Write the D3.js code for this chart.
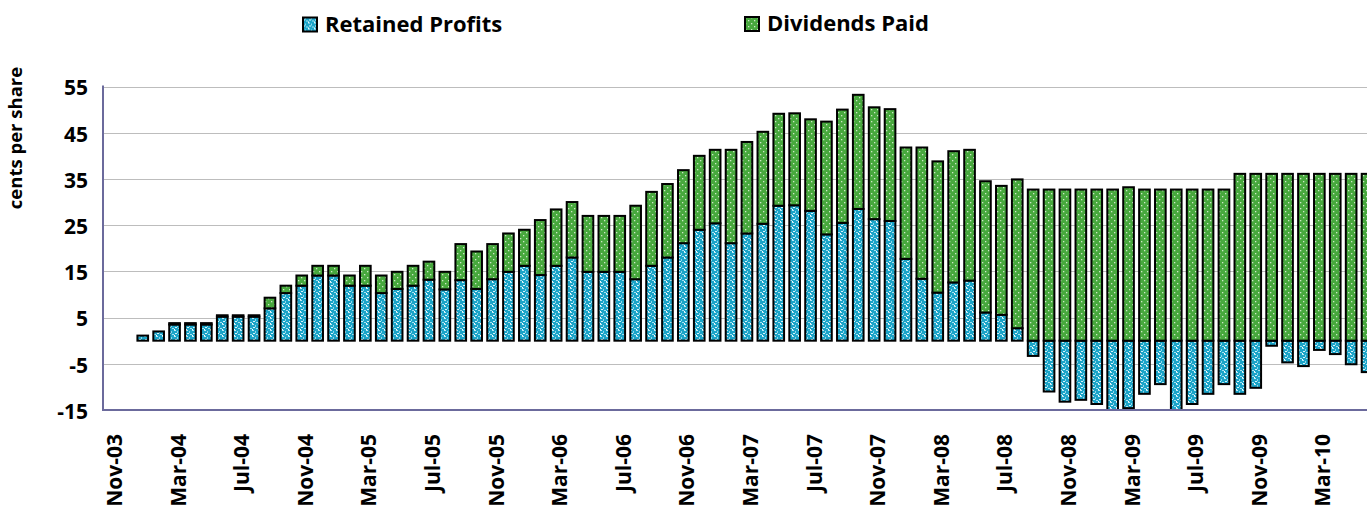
<!DOCTYPE html>
<html lang="en">
<head>
<meta charset="UTF-8">
<title>Retained Profits and Dividends Paid</title>
<script src="https://d3js.org/d3.v7.min.js"></script>
<style>
    body { margin: 0; background: #fff; }
    text { font-family: "Open Sans", sans-serif; font-weight: 700; fill: #000; }
    .grid line { stroke: #bdbdbd; stroke-width: 1; }
    .frame { stroke: #6b6a9c; stroke-width: 2; fill: none; }
</style>
</head>
<body>
<svg id="chart" width="1367" height="506"></svg>
<script>
// monthly categories, Nov-03 .. Jun-10
const months = [
    "Nov-03","Dec-03","Jan-04","Feb-04","Mar-04","Apr-04","May-04","Jun-04","Jul-04","Aug-04",
    "Sep-04","Oct-04","Nov-04","Dec-04","Jan-05","Feb-05","Mar-05","Apr-05","May-05","Jun-05",
    "Jul-05","Aug-05","Sep-05","Oct-05","Nov-05","Dec-05","Jan-06","Feb-06","Mar-06","Apr-06",
    "May-06","Jun-06","Jul-06","Aug-06","Sep-06","Oct-06","Nov-06","Dec-06","Jan-07","Feb-07",
    "Mar-07","Apr-07","May-07","Jun-07","Jul-07","Aug-07","Sep-07","Oct-07","Nov-07","Dec-07",
    "Jan-08","Feb-08","Mar-08","Apr-08","May-08","Jun-08","Jul-08","Aug-08","Sep-08","Oct-08",
    "Nov-08","Dec-08","Jan-09","Feb-09","Mar-09","Apr-09","May-09","Jun-09","Jul-09","Aug-09",
    "Sep-09","Oct-09","Nov-09","Dec-09","Jan-10","Feb-10","Mar-10","Apr-10","May-10","Jun-10"
];

// cents per share
const retainedProfits = [
    0, 0, 1.1, 2.0, 3.5, 3.5, 3.5, 5.2, 5.2, 5.2,
    7.0, 10.3, 11.9, 14.1, 14.1, 11.9, 11.9, 10.3, 11.2, 11.9,
    13.2, 11.1, 13.1, 11.2, 13.3, 14.9, 16.2, 14.2, 16.2, 18.0,
    14.9, 14.9, 14.9, 13.3, 16.2, 18.0, 21.1, 24.0, 25.4, 21.1,
    23.2, 25.3, 29.2, 29.3, 28.1, 23.0, 25.5, 28.5, 26.3, 25.9,
    17.7, 13.4, 10.4, 12.6, 13.0, 6.1, 5.6, 2.7, -3.3, -11.0,
    -13.2, -12.8, -13.7, -16.0, -14.6, -11.5, -9.4, -16.0, -13.7, -11.5,
    -9.4, -11.5, -10.2, -1.1, -4.7, -5.5, -2.0, -2.9, -5.1, -6.8
];

const dividendsPaid = [
    0, 0, 0, 0, 0.3, 0.3, 0.3, 0.3, 0.3, 0.3,
    2.3, 1.6, 2.2, 2.1, 2.1, 2.2, 4.3, 3.8, 3.7, 4.3,
    3.9, 3.8, 7.8, 8.1, 7.6, 8.3, 7.8, 11.9, 12.2, 12.0,
    12.1, 12.1, 12.1, 15.9, 16.0, 15.9, 15.8, 16.0, 15.9, 20.2,
    19.8, 19.9, 19.9, 19.9, 19.8, 24.4, 24.5, 24.7, 24.2, 24.2,
    24.1, 28.4, 28.4, 28.4, 28.3, 28.4, 27.9, 32.2, 32.7, 32.7,
    32.7, 32.7, 32.7, 32.7, 33.2, 32.7, 32.7, 32.7, 32.7, 32.7,
    32.7, 36.1, 36.1, 36.1, 36.1, 36.1, 36.1, 36.1, 36.1, 36.1
];

const xTickLabels = ["Nov-03","Mar-04","Jul-04","Nov-04","Mar-05","Jul-05","Nov-05","Mar-06","Jul-06","Nov-06",
    "Mar-07","Jul-07","Nov-07","Mar-08","Jul-08","Nov-08","Mar-09","Jul-09","Nov-09","Mar-10"];
const yTicks = [-15, -5, 5, 15, 25, 35, 45, 55];

const seriesNames = ["Retained Profits", "Dividends Paid"];
const keys = ["retained", "dividends"];

const svg = d3.select("#chart");
const plotLeft = 103, plotTop = 86.5, plotBottom = 410, step = 15.9;

const x = d3.scaleBand()
    .domain(months)
    .range([plotLeft, plotLeft + months.length * step])
    .paddingInner(0.33)
    .paddingOuter(0.165);

const y = d3.scaleLinear()
    .domain([-15, 55])
    .range([plotBottom, plotTop]);

// fill textures
const defs = svg.append("defs");
const pBlue = defs.append("pattern").attr("id", "pBlue")
    .attr("patternUnits", "userSpaceOnUse").attr("width", 6).attr("height", 6);
pBlue.append("rect").attr("width", 6).attr("height", 6).attr("fill", "#1ba4c8");
[[0, 0, 2, 1, "#bfeaf5"], [3, 1, 1, 2, "#8fd6ea"], [1, 3, 2, 1, "#d8f3fa"], [4, 4, 2, 1, "#a7e1f0"], [0, 5, 1, 1, "#ffffff"]]
    .forEach(p => pBlue.append("rect").attr("x", p[0]).attr("y", p[1]).attr("width", p[2]).attr("height", p[3]).attr("fill", p[4]));

const pGreen = defs.append("pattern").attr("id", "pGreen")
    .attr("patternUnits", "userSpaceOnUse").attr("width", 6).attr("height", 6);
pGreen.append("rect").attr("width", 6).attr("height", 6).attr("fill", "#47a83d");
[[1, 1], [4, 4]].forEach(p => pGreen.append("rect").attr("x", p[0]).attr("y", p[1])
    .attr("width", 1.3).attr("height", 1.3).attr("fill", "#cfe9c8"));

const fills = {retained: "url(#pBlue)", dividends: "url(#pGreen)"};

defs.append("clipPath").attr("id", "plotClip")
    .append("rect").attr("x", plotLeft).attr("y", plotTop - 10)
    .attr("width", 1367 - plotLeft).attr("height", plotBottom - plotTop + 10);

// gridlines
svg.append("g").attr("class", "grid")
    .selectAll("line")
    .data(yTicks.filter(t => t > -15))
    .join("line")
    .attr("x1", plotLeft).attr("x2", 1367)
    .attr("y1", d => Math.round(y(d)) + 0.5).attr("y2", d => Math.round(y(d)) + 0.5);

// stacked bars
const table = months.map((m, i) => ({month: m, retained: retainedProfits[i], dividends: dividendsPaid[i]}));
const stacked = d3.stack().keys(keys).offset(d3.stackOffsetDiverging)(table);

svg.append("g").attr("clip-path", "url(#plotClip)")
    .selectAll("g")
    .data(stacked)
    .join("g")
    .attr("fill", d => fills[d.key])
    .selectAll("rect")
    .data(d => d.filter(s => s[1] !== s[0]))
    .join("rect")
    .attr("x", d => x(d.data.month))
    .attr("width", x.bandwidth())
    .attr("y", d => y(Math.max(d[0], d[1])))
    .attr("height", d => Math.abs(y(d[0]) - y(d[1])))
    .attr("stroke", "#000")
    .attr("stroke-width", 2);

// axis lines
svg.append("line").attr("class", "frame")
    .attr("x1", plotLeft).attr("x2", plotLeft).attr("y1", plotTop - 1).attr("y2", plotBottom + 1);
svg.append("line").attr("class", "frame")
    .attr("x1", plotLeft).attr("x2", 1367).attr("y1", plotBottom).attr("y2", plotBottom);

// y tick labels
svg.append("g")
    .selectAll("text")
    .data(yTicks)
    .join("text")
    .attr("x", 88)
    .attr("y", d => y(d))
    .attr("dy", "0.42em")
    .attr("text-anchor", "end")
    .attr("font-size", 21)
    .text(d => d);

// x tick labels, rotated
const xAxis = svg.append("g")
    .attr("transform", `translate(0,${plotBottom})`)
    .call(d3.axisBottom(x).tickValues(xTickLabels).tickSize(0).tickPadding(0));
xAxis.select(".domain").remove();
xAxis.selectAll("text")
    .attr("font-size", 21)
    .attr("font-family", "'Open Sans', sans-serif")
    .attr("fill", "#000")
    .attr("text-anchor", "end")
    .attr("transform", "rotate(-90)")
    .attr("x", -24)
    .attr("y", 0)
    .attr("dy", 11);

// y axis title
svg.append("text")
    .attr("transform", "translate(22,138) rotate(-90)")
    .attr("text-anchor", "middle")
    .attr("font-size", 18.5)
    .text("cents per share");

// legend
const legendPos = [{x: 302, y: 16.5}, {x: 744, y: 16}];
const legend = svg.append("g")
    .selectAll("g")
    .data(keys)
    .join("g")
    .attr("transform", (d, i) => `translate(${legendPos[i].x},${legendPos[i].y})`);
legend.append("rect")
    .attr("x", 1).attr("y", 1)
    .attr("width", 14).attr("height", 14)
    .attr("fill", d => fills[d])
    .attr("stroke", "#000")
    .attr("stroke-width", 2);
legend.append("text")
    .attr("x", 23)
    .attr("y", 15)
    .attr("font-size", 22)
    .text((d, i) => seriesNames[i]);
</script>
</body>
</html>
